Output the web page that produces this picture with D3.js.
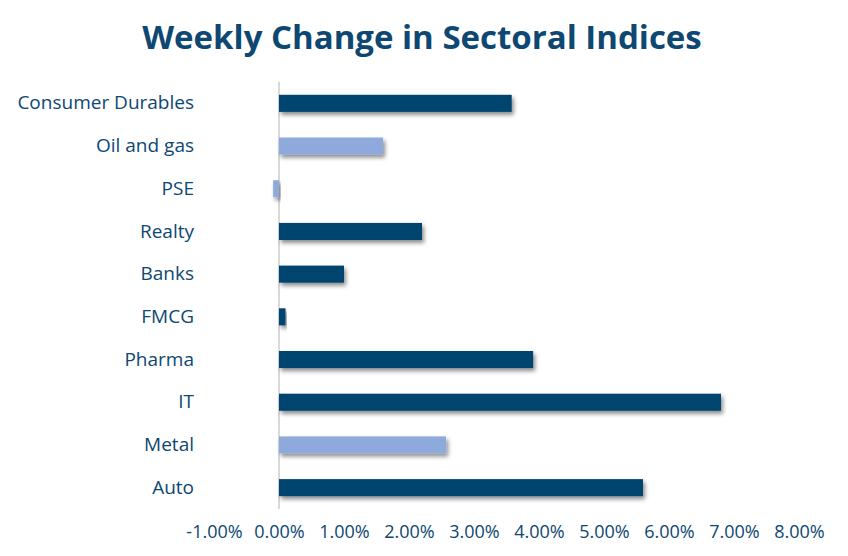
<!DOCTYPE html>
<html lang="en">
<head>
    <meta charset="UTF-8">
    <script src="https://cdn.jsdelivr.net/npm/d3@7"></script>
    <title>Weekly Change in Sectoral Indices</title>
    <style>
        html, body {
            margin: 0;
            padding: 0;
            background-color: #ffffff;
        }
        #chart {
            width: 848px;
            height: 556px;
        }
        text {
            font-family: "Open Sans", sans-serif;
        }
    </style>
</head>
<body>
    <div id="chart"></div>

    <script>
        // sectors, top to bottom as drawn
        let sectors = ['Consumer Durables', 'Oil and gas', 'PSE', 'Realty', 'Banks',
                       'FMCG', 'Pharma', 'IT', 'Metal', 'Auto'];
        // weekly change, in percent
        let changes = [3.58, 1.60, -0.09, 2.20, 1.00, 0.10, 3.91, 6.80, 2.57, 5.60];
        // sectors drawn in the lighter shade
        let lightSectors = ['Oil and gas', 'PSE', 'Metal'];
        let tickValues = [-1, 0, 1, 2, 3, 4, 5, 6, 7, 8];

        let width = 848;
        let height = 556;

        let margin = { top: 82, bottom: 47, left: 214, right: 49 };

        let darkBlue = '#00446f';
        let lightBlue = '#8eaadc';
        let textColor = '#0d4772';

        let svg = d3.select('#chart').append('svg')
            .attr('width', width)
            .attr('height', height);

        let defs = svg.append('defs');
        defs.append('filter')
            .attr('id', 'shadow')
            .attr('x', '-20%').attr('y', '-40%')
            .attr('width', '140%').attr('height', '200%')
            .append('feDropShadow')
            .attr('dx', 2).attr('dy', 3)
            .attr('stdDeviation', 2)
            .attr('flood-color', '#000')
            .attr('flood-opacity', 0.45);

        let x = d3.scaleLinear()
            .domain([-1, 8])
            .range([margin.left, width - margin.right]);

        let y = d3.scaleBand()
            .domain(sectors)
            .range([margin.top, height - margin.bottom])
            .paddingInner(0.6)
            .paddingOuter(0.3);

        // title
        svg.append('text')
            .attr('x', 422)
            .attr('y', 49)
            .attr('text-anchor', 'middle')
            .attr('fill', textColor)
            .attr('font-size', 33)
            .attr('font-weight', 'bold')
            .text('Weekly Change in Sectoral Indices');

        // zero line
        svg.append('line')
            .attr('x1', x(0)).attr('x2', x(0))
            .attr('y1', margin.top).attr('y2', height - margin.bottom)
            .attr('stroke', '#d9d9d9')
            .attr('stroke-width', 2);

        let data = sectors.map((s, i) => ({ sector: s, value: changes[i] }));

        svg.append('g')
            .selectAll('rect')
            .data(data)
            .join('rect')
            .attr('x', d => x(Math.min(0, d.value)))
            .attr('width', d => Math.abs(x(d.value) - x(0)))
            .attr('y', d => y(d.sector))
            .attr('height', y.bandwidth())
            .attr('fill', d => lightSectors.includes(d.sector) ? lightBlue : darkBlue)
            .attr('filter', 'url(#shadow)');

        // category labels
        let yAxis = svg.append('g')
            .attr('transform', `translate(${x(0) - 85},0)`)
            .call(d3.axisLeft(y).tickSize(0).tickPadding(0));
        yAxis.select('.domain').remove();
        yAxis.selectAll('text')
            .attr('fill', textColor)
            .attr('font-size', 19)
            .attr('font-family', '"Open Sans", sans-serif');

        // value axis labels
        let xAxis = svg.append('g')
            .attr('transform', `translate(0,532)`)
            .call(d3.axisBottom(x)
                .tickValues(tickValues)
                .tickSize(0)
                .tickPadding(0)
                .tickFormat(d => d3.format('.2f')(d).replace('−', '-') + '%'));
        xAxis.select('.domain').remove();
        xAxis.selectAll('text')
            .attr('dy', '0.35em')
            .attr('fill', textColor)
            .attr('font-size', 18)
            .attr('font-family', '"Open Sans", sans-serif');
    </script>
</body>
</html>
